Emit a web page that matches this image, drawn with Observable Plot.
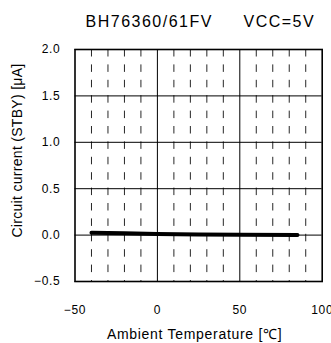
<!DOCTYPE html>
<html><head><meta charset="utf-8">
<script src="https://cdn.jsdelivr.net/npm/d3@7"></script>
<script src="https://cdn.jsdelivr.net/npm/@observablehq/plot@0.6"></script>
<style>body{margin:0;background:#fff}</style>
</head><body><div id="chart"></div>
<script>
const temps = [-40, -20, 0, 25, 50, 85];
const current = [0.025, 0.02, 0.012, 0.007, 0.003, 0.0];
const xTicks = [-50, 0, 50, 100];
const yTicks = [-0.5, 0, 0.5, 1.0, 1.5, 2.0];
const minorX = [-40, -30, -20, -10, 10, 20, 30, 40, 60, 70, 80, 90];
const majorX = [0, 50];
const title = "BH76360/61FV";
const subtitle = "VCC=5V";
const xLabel = "Ambient Temperature [℃]";
const yLabel = "Circuit current (STBY) [μA]";

const data = temps.map((t, i) => ({t, v: current[i]}));

const plot = Plot.plot({
  width: 331, height: 343,
  marginLeft: 74.5, marginRight: 9.3, marginTop: 49, marginBottom: 62,
  style: {fontFamily: "'Liberation Sans', Arial, sans-serif", fontSize: "12px", color: "#000", background: "#fff"},
  x: {domain: [-50, 100], ticks: xTicks, tickSize: 0, tickPadding: 24, tickFormat: d3.format("d"), label: null},
  y: {domain: [-0.5, 2], ticks: yTicks, tickSize: 0, tickPadding: 14.5, tickFormat: d3.format(".1f"), label: null},
  marks: [
    Plot.ruleX(minorX, {stroke: "#000", strokeWidth: 1, strokeDasharray: "7.5,7.9", strokeOpacity: 0.85}),
    Plot.ruleX(majorX, {stroke: "#000", strokeWidth: 1}),
    Plot.ruleY(yTicks, {stroke: "#000", strokeWidth: 1}),
    Plot.frame({stroke: "#000", strokeWidth: 1.6}),
    Plot.line(data, {x: "t", y: "v", stroke: "#000", strokeWidth: 4}),
    Plot.text([title], {frameAnchor: "top-left", dx: 10.5, dy: -28, textAnchor: "start", lineAnchor: "middle", fontSize: 16}),
    Plot.text([subtitle], {frameAnchor: "top-right", dx: -7, dy: -28, textAnchor: "end", lineAnchor: "middle", fontSize: 16}),
    Plot.text([yLabel], {frameAnchor: "left", rotate: -90, dx: -57.5, dy: -15, textAnchor: "middle", lineAnchor: "middle", fontSize: 14}),
    Plot.text([xLabel], {frameAnchor: "bottom", dx: -4, dy: 53, textAnchor: "middle", lineAnchor: "middle", fontSize: 14})
  ]
});
d3.select(plot).selectAll("text").style("letter-spacing", "0.7px");
d3.select(plot).selectAll("text").filter(function(){ return this.textContent === title || this.textContent === subtitle; }).style("letter-spacing", "1.5px");
d3.select(plot).selectAll("text").filter(function(){ return this.textContent === yLabel; }).style("letter-spacing", "0.3px");
document.getElementById("chart").appendChild(plot);
</script>
</body></html>
